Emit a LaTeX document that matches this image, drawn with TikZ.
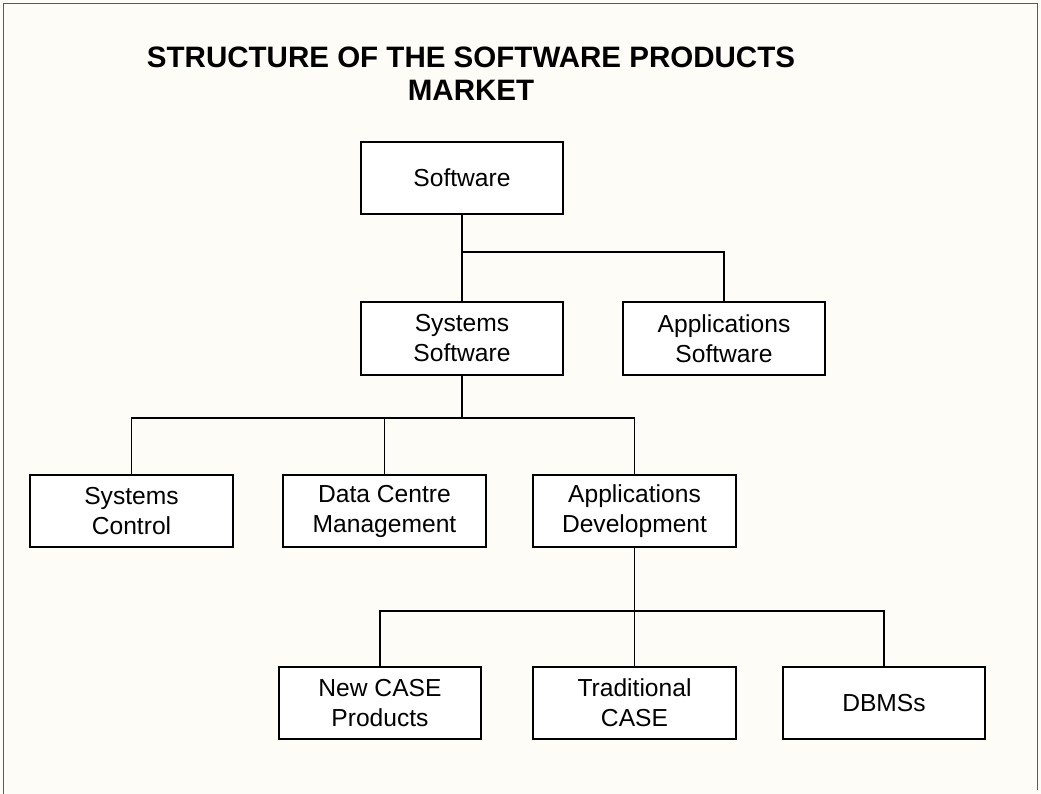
\documentclass[tikz,border=0pt]{standalone}
\usepackage{fontspec}
\setmainfont{Liberation Sans}
\definecolor{paper}{RGB}{253,252,247}
\definecolor{frameline}{RGB}{90,90,90}
\tikzset{
  unit/.style={draw=black, line width=1.4pt, fill=white, align=center,
    minimum width=5.05cm, minimum height=1.82cm, inner sep=2pt,
    font=\fontsize{17.5}{21.3}\selectfont},
  link/.style={line width=1.2pt}
}
\begin{document}
\begin{tikzpicture}[x=0.025cm, y=-0.025cm]

  % --- page and frame ---
  \useasboundingbox (0,0) rectangle (1041,794);
  \fill[paper] (0,0) rectangle (1041,794);
  \draw[frameline, line width=0.6pt] (3,794) -- (3,3) -- (1037,3) -- (1037,790);

  % --- title ---
  \node[align=center, font=\fontsize{21}{23.4}\selectfont\bfseries] (title) at (471,74)
      {STRUCTURE OF THE SOFTWARE PRODUCTS\\MARKET};

  % --- boxes ---
  \node[unit] (soft)    at (462,178)   {Software};
  \node[unit] (sys)     at (462,338.5) {Systems\\Software};
  \node[unit] (apps)    at (724,338.5) {Applications\\Software};

  \node[unit] (ctrl)    at (131.5,511) {Systems\\Control};
  \node[unit] (dcm)     at (384.5,511) {Data Centre\\Management};
  \node[unit] (dev)     at (634.5,511) {Applications\\Development};

  \node[unit] (newcase) at (380,703)   {New CASE\\Products};
  \node[unit] (trad)    at (634.5,703) {Traditional\\CASE};
  \node[unit] (dbms)    at (884,703)   {DBMSs};

  % --- junctions ---
  \coordinate (j1) at (462,252);
  \coordinate (j2) at (462,418);
  \coordinate (j3) at (634.5,611);

  % --- connectors ---
  \draw[link] (soft.south) -- (sys.north);
  \draw[link] (j1) -| (apps.north);

  \draw[link] (sys.south) -- (j2);
  \draw[link] (ctrl.north) |- (j2) -| (dev.north);
  \draw[link] (dcm.north) -- (dcm.north |- j2);

  \draw[link] (dev.south) -- (trad.north);
  \draw[link] (newcase.north) |- (j3) -| (dbms.north);

\end{tikzpicture}
\end{document}
